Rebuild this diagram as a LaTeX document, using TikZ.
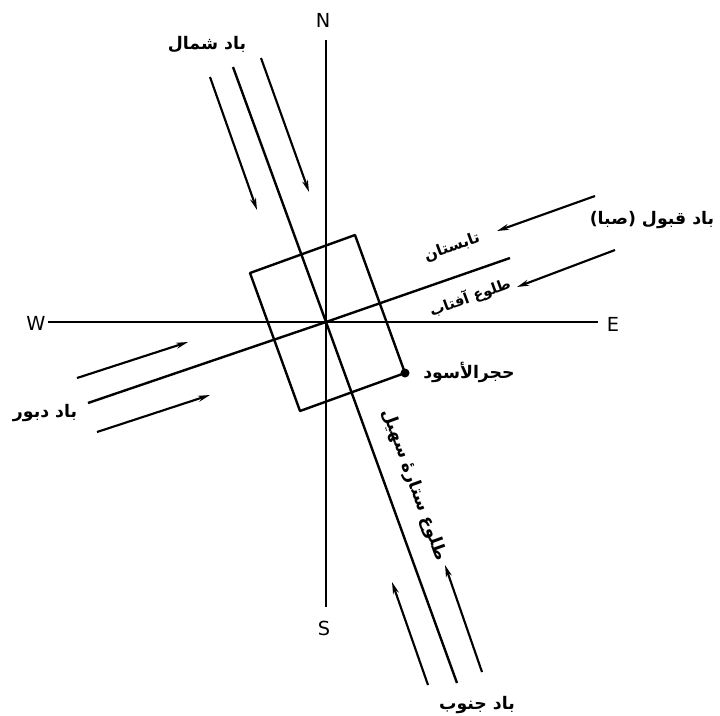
\documentclass[tikz,border=0pt]{standalone}
\usepackage{fontspec}
\usepackage{tikz}
\usetikzlibrary{arrows.meta}
\newfontfamily\arabicfont[Script=Arabic]{DejaVu Sans}
\newfontfamily\dirfont{DejaVu Sans}
\TeXXeTstate=1

\begin{document}
\begin{tikzpicture}[x=0.75pt,y=0.75pt,yscale=-1,xscale=1,
		axisline/.style={line width=2.2pt},
		qiblaline/.style={line width=1.8pt},
		windarrow/.style={line width=1.6pt,-{Stealth[length=9pt,width=4.5pt]}},
		compass/.style={inner sep=0.75pt,font=\dirfont\fontsize{14.5}{16}\selectfont},
		farsi/.style={inner sep=0.75pt,font=\arabicfont\bfseries\fontsize{13}{15}\selectfont}]
				\useasboundingbox (0,0) rectangle (720,715);
				% compass axes
				\node[compass] (N) at (323,20) {N};
				\node[compass] (S) at (324,628) {S};
				\node[compass] (W) at (36,323) {W};
				\node[compass] (E) at (613,324) {E};
				\coordinate (O) at (326,322);
				\draw[axisline] (326,40) -- (O) -- (326,607);
				\draw[axisline] (48,322) -- (O) -- (598,322);
				% kaaba axes and walls
				\draw[qiblaline] (233,67) -- (O) -- (457,683);
				\draw[qiblaline] (88,403) -- (O) -- (510,258);
				\draw[qiblaline,line join=round] (250,273) -- (355,235) -- (405,373) -- (300,411) -- cycle;
				\fill (405,373) circle (4.5);
				% winds
				\draw[windarrow] (210,77) -- (257,210);
				\draw[windarrow] (261,58) -- (309,192);
				\draw[windarrow] (595,196) -- (497,231);
				\draw[windarrow] (615,250) -- (517,287);
				\draw[windarrow] (77,378) -- (188,342);
				\draw[windarrow] (97,432) -- (210,395);
				\draw[windarrow] (428,685) -- (392,582);
				\draw[windarrow] (482,672) -- (445,565);
				% labels
				\node[farsi] (shamal) at (207,44) {\beginR باد شمال\endR};
				\node[farsi] (saba) at (652,220) {\beginR باد قبول (صبا)\endR};
				\node[farsi] (dabur) at (45,413) {\beginR باد دبور\endR};
				\node[farsi] (jonub) at (477,705) {\beginR باد جنوب\endR};
				\node[farsi] (hajar) at (469,372) {\beginR حجرالأسود\endR};
				\node[farsi,font=\arabicfont\bfseries\fontsize{11.5}{13}\selectfont,rotate=20] (tabestan) at (452,247) {\beginR تابستان\endR};
				\node[farsi,font=\arabicfont\bfseries\fontsize{11}{13}\selectfont,rotate=20] (aftab) at (470,297) {\beginR طلوع آفتاب\endR};
				\node[farsi,rotate=-70] (sohail) at (414,485) {\beginR طلوع ستارهٔ سهیل\endR};
			\end{tikzpicture}
\end{document}
